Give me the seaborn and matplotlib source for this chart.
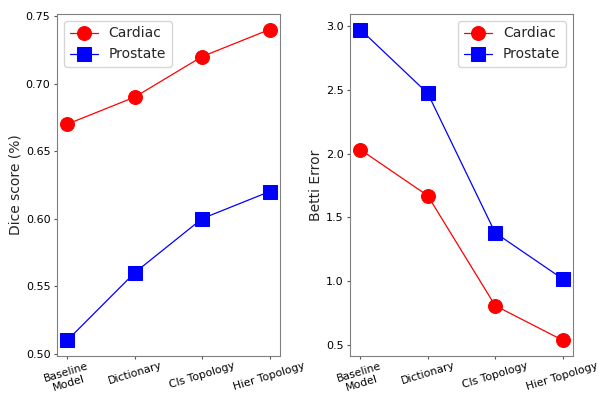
import pandas as pd
import matplotlib
matplotlib.use("Agg")
import matplotlib.pyplot as plt
import seaborn as sns

methods = ["Baseline\nModel", "Dictionary", "Cls Topology", "Hier Topology"]
dice_cardiac = [0.67, 0.69, 0.72, 0.74]
dice_prostate = [0.51, 0.56, 0.60, 0.62]
betti_cardiac = [2.03, 1.67, 0.81, 0.54]
betti_prostate = [2.97, 2.47, 1.38, 1.02]

sns.set_style("ticks")
plt.rcParams['font.family'] = ['DejaVu Sans']

fig, axes = plt.subplots(1, 2, figsize=(5.99, 3.94), dpi=100)

panels = [
    (axes[0], dice_cardiac, dice_prostate, "Dice score (%)", "upper left"),
    (axes[1], betti_cardiac, betti_prostate, "Betti Error", "upper right"),
]

for ax, cardiac, prostate, ylabel, loc in panels:
    x = list(range(len(methods)))
    sns.lineplot(x=x, y=cardiac, ax=ax, color='red', marker='o', markersize=10,
                 markeredgecolor='red', linewidth=0.9, label='Cardiac')
    sns.lineplot(x=x, y=prostate, ax=ax, color='blue', marker='s', markersize=9.5,
                 markeredgecolor='blue', linewidth=0.9, label='Prostate')
    ax.set_xticks(x)
    ax.set_xticklabels(methods, rotation=17, fontsize=7.8)
    ax.tick_params(axis='y', labelsize=8, length=2.5, pad=2.5)
    ax.tick_params(axis='x', length=2, pad=1.5)
    ax.tick_params(width=0.8, colors='#555555', labelcolor='black')
    ax.set_ylabel(ylabel, fontsize=10, labelpad=2)
    ax.legend(fontsize=10, loc=loc, fancybox=True)
    for s in ax.spines.values():
        s.set_color('grey')

axes[0].set_yticks([0.50, 0.55, 0.60, 0.65, 0.70, 0.75])
axes[1].set_yticks([0.5, 1.0, 1.5, 2.0, 2.5, 3.0])

fig.subplots_adjust(left=0.0957, right=0.956, top=0.9645, bottom=0.0972, wspace=0.318)
plt.savefig("out.png")
